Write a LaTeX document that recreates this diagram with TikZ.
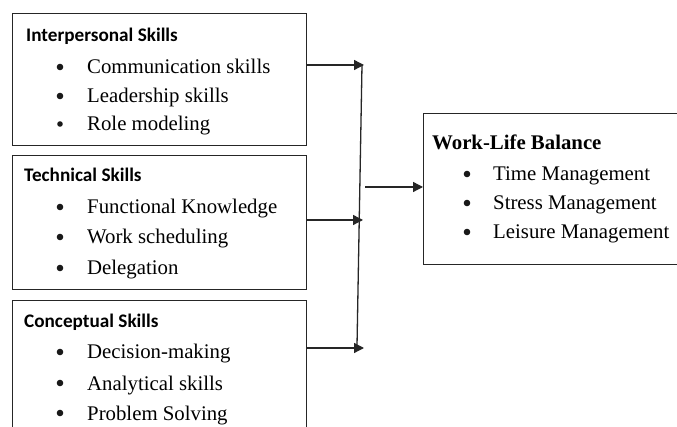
\documentclass[tikz,border=0pt]{standalone}
\usepackage{fontspec}
\setmainfont{Liberation Serif}
\newfontfamily\headfont{Carlito}
\usetikzlibrary{arrows.meta}
\begin{document}
\begin{tikzpicture}[x=1pt,y=-1pt,
  box/.style={draw=black!85, line width=1.4pt, anchor=north west, inner sep=0pt},
  head/.style={anchor=base west, inner sep=0pt, font=\headfont\bfseries\fontsize{19.2}{22}\selectfont},
  title/.style={anchor=base west, inner sep=0pt, font=\bfseries\fontsize{20.8}{24}\selectfont},
  item/.style={anchor=base west, inner sep=0pt, font=\fontsize{20.8}{24}\selectfont},
  dot/.style={circle, fill=black!90, inner sep=0pt, minimum size=6.6pt, yshift=7pt},
  arr/.style={draw=black!85, line width=1.3pt, -{Triangle[length=10pt,width=10pt]}},
  link/.style={draw=black!85, line width=1.3pt}]
\useasboundingbox (0,0) rectangle (677,427);
\clip (0,0) rectangle (677,427);
\fill[white] (0,0) rectangle (677,427);

% skill boxes
\node[box, minimum width=294, minimum height=132] (b1) at (12,13) {};
\node[box, minimum width=294, minimum height=134] (b2) at (12,155) {};
\node[box, minimum width=294, minimum height=150] (b3) at (12,300) {};
% outcome box
\node[box, minimum width=270, minimum height=151] (w) at (423,113) {};

% interpersonal
\node[head] (h1) at (26,42) {Interpersonal Skills};
\node[dot] (d11) at (60,74) {};
\node[item] (i11) at (87,74) {Communication skills};
\node[dot] (d12) at (60,103) {};
\node[item] (i12) at (87,103) {Leadership skills};
\node[dot, minimum size=5.6pt] (d13) at (60,131) {};
\node[item] (i13) at (87,131) {Role modeling};

% technical
\node[head] (h2) at (24,182) {Technical Skills};
\node[dot] (d21) at (60,214) {};
\node[item] (i21) at (87,214) {Functional Knowledge};
\node[dot] (d22) at (60,244) {};
\node[item] (i22) at (87,244) {Work scheduling};
\node[dot] (d23) at (60,275) {};
\node[item] (i23) at (87,275) {Delegation};

% conceptual
\node[head] (h3) at (24,328) {Conceptual Skills};
\node[dot] (d31) at (60,359) {};
\node[item] (i31) at (87,359) {Decision-making};
\node[dot] (d32) at (60,390) {};
\node[item] (i32) at (87,390) {Analytical skills};
\node[dot] (d33) at (60,420) {};
\node[item] (i33) at (87,420) {Problem Solving};

% work-life balance
\node[title] (wt) at (432,150) {Work-Life Balance};
\node[dot] (dw1) at (467,181) {};
\node[item] (iw1) at (493,181) {Time Management};
\node[dot] (dw2) at (467,210) {};
\node[item] (iw2) at (493,210) {Stress Management};
\node[dot] (dw3) at (467,239) {};
\node[item] (iw3) at (493,239) {Leisure Management};

% connectors
\coordinate (top) at (362,65);
\coordinate (bot) at (357,346);
\coordinate (t1) at (364,65);
\coordinate (t2) at (363,220);
\coordinate (t3) at (364,348);
\coordinate (m) at (365,187);

\draw[link] (top) -- (bot);
\draw[arr] (b1.east |- t1) -- (t1);
\draw[arr] (b2.east |- t2) -- (t2);
\draw[arr] (b3.east |- t3) -- (t3);
\draw[arr] (m) -- (w.west |- m);
\end{tikzpicture}
\end{document}
